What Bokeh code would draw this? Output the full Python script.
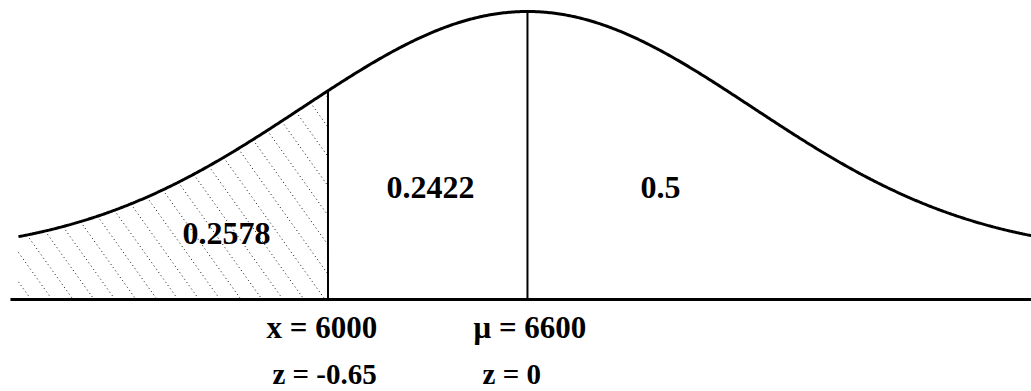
import numpy as np
from bokeh.plotting import figure
from bokeh.models import Range1d
from bokeh.core.properties import value
from bokeh.embed import file_html
from bokeh.resources import INLINE

# --- values -------------------------------------------------------------
MU = 6600            # mean
X_CUT = 6000         # cut-off value
Z_CUT = -0.65        # z-score of the cut-off
Z_MU = 0
AREAS = [0.2578, 0.2422, 0.5]          # left tail, cut-off..mean, right half
X_LABELS = ["x = 6000", "\u03bc = 6600"]
Z_LABELS = ["z = -0.65", "z = 0"]

# --- drawing setup ------------------------------------------------------
W, H = 1031, 391
X_LO, X_HI = 5015, 8116          # visible x extent
Y_LO, Y_HI = -0.377, 1.225       # visible y extent (axis line at y = 0)
CURVE_START = 5069               # left end of the drawn bell curve
AXIS_START = 5045
SPREAD = 677                     # drawn width of the bell
LIFT = 0.18                      # bell tails sit above the axis line
FONT = value("Liberation Serif")

px_per_x = W / (X_HI - X_LO)
px_per_y = H / (Y_HI - Y_LO)


def bell(x):
    return LIFT + np.exp(-0.5 * ((np.asarray(x, dtype=float) - MU) / SPREAD) ** 2)


p = figure(width=W, height=H, output_backend="svg", toolbar_location=None,
           x_range=Range1d(X_LO, X_HI), y_range=Range1d(Y_LO, Y_HI),
           min_border=0, outline_line_color=None)
p.axis.visible = False
p.grid.visible = False
p.background_fill_color = "white"
p.border_fill_color = "white"

# dotted hatching of the left tail (lines running down to the right)
slope = 1.4 * px_per_x / px_per_y        # data-space steepness of hatch lines
gap = 21 / px_per_x                      # horizontal spacing of hatch lines
xs_fine = np.linspace(CURVE_START, X_CUT, 3000)
top = bell(xs_fine)
x0s, y0s, x1s, y1s = [], [], [], []
c = CURVE_START + gap * 0.6
c_max = X_CUT + bell(X_CUT) / slope
while c < c_max:
    yl = slope * (c - xs_fine)
    ok = (yl >= 0) & (yl <= top)
    if ok.any():
        idx = np.where(ok)[0]
        xa, xb = xs_fine[idx[0]], xs_fine[idx[-1]]
        x0s.append(xa); y0s.append(slope * (c - xa))
        x1s.append(xb); y1s.append(slope * (c - xb))
    c += gap
p.segment(x0s, y0s, x1s, y1s, line_color="#111111", line_width=1,
          line_dash="1 3")

# axis line
p.segment([AXIS_START], [0], [X_HI], [0], line_color="black", line_width=3)

# bell curve
xc = np.linspace(CURVE_START, X_HI, 600)
p.line(xc, bell(xc), line_color="black", line_width=3)

# vertical dividers at the cut-off and the mean
p.segment([X_CUT, MU], [0, 0], [X_CUT, MU], [bell(X_CUT), bell(MU)],
          line_color="black", line_width=2)

# area labels
area_x = [5695, 6308, 7000]
area_y = [0.27, 0.459, 0.459]
p.text(area_x, area_y, text=[f"{a:g}" for a in AREAS], text_font=FONT,
       text_font_style="bold", text_font_size="32px", text_align="center",
       text_baseline="alphabetic", text_color="black")

# x / z labels below the axis
p.text([5815, 6438], [-0.115, -0.115], text=X_LABELS, text_font=FONT,
       text_font_style="bold", text_font_size="31px", text_align="left",
       text_baseline="alphabetic", text_color="black")
p.text([5833, 6465], [-0.307, -0.307], text=Z_LABELS, text_font=FONT,
       text_font_style="bold", text_font_size="29px", text_align="left",
       text_baseline="alphabetic", text_color="black")

open("out.html", "w").write(file_html(p, INLINE))
